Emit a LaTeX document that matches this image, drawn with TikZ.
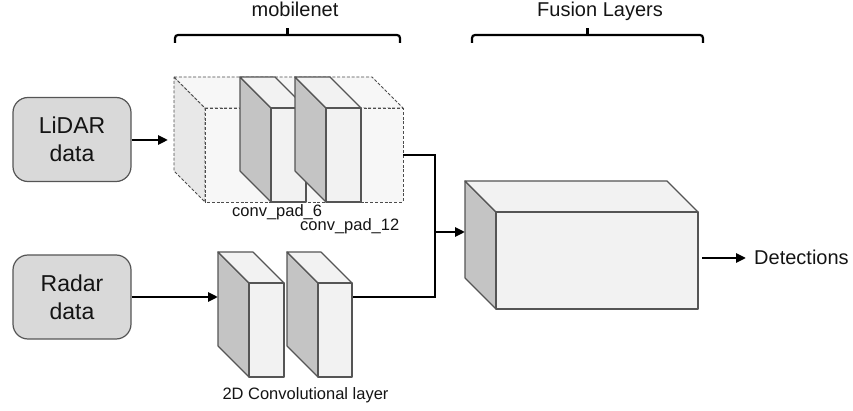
\documentclass[tikz,border=0pt]{standalone}
\usepackage{fontspec}
\setmainfont{Liberation Sans}
\usetikzlibrary{arrows.meta}

\definecolor{boxfill}{HTML}{D9D9D9}
\definecolor{edgegray}{HTML}{555555}
\definecolor{sidegray}{HTML}{C4C4C4}
\definecolor{facegray}{HTML}{F2F2F2}
\definecolor{ghostside}{HTML}{E8E8E8}
\definecolor{ghostface}{HTML}{F7F7F7}
\definecolor{ink}{HTML}{141414}

% cuboid seen from the front-left: #1 line style, #2 side fill, #3 top/front fill,
% #4,#5 top-left corner of the front face, #6 width, #7 height
\newcommand\cuboid[7]{%
  \draw[#1,fill=#2] (#4-31,#5-31) -- (#4,#5) -- (#4,#5+#7) -- (#4-31,#5+#7-31) -- cycle;
  \draw[#1,fill=#3] (#4-31,#5-31) -- (#4+#6-31,#5-31) -- (#4+#6,#5) -- (#4,#5) -- cycle;
  \draw[#1,fill=#3] (#4,#5) rectangle (#4+#6,#5+#7);
}

\tikzset{
  databox/.style={draw=edgegray, line width=1.2pt, fill=boxfill, rounded corners=15pt,
    minimum width=118pt, minimum height=84pt, align=center, text=ink,
    font=\fontsize{23}{28}\selectfont},
  caption/.style={text=ink, inner sep=0pt, font=\fontsize{16.5}{20}\selectfont},
  heading/.style={text=ink, inner sep=0pt, font=\fontsize{20}{24}\selectfont},
  wire/.style={line width=2.7pt, draw=black},
  conn/.style={wire, -{Triangle[length=10pt,width=9pt]}},
  bracket/.style={line width=2.2pt, draw=black, rounded corners=3pt},
  solidedge/.style={draw=edgegray, line width=1.2pt, line join=round},
  ghostedge/.style={draw=black!70, line width=0.9pt, dash pattern=on 3pt off 1.8pt}
}

\begin{document}
\begin{tikzpicture}[x=1pt, y=-1pt]
\useasboundingbox (0,0) rectangle (853,411);

% input boxes
\node[databox] (lidar) at (72,139.5) {LiDAR\\data};
\node[databox] (radar) at (72,297) {Radar\\data};

% mobilenet block: transparent outer volume with two padded conv slabs
\cuboid{ghostedge}{ghostside}{ghostface}{205}{108}{198}{94}
\cuboid{solidedge}{sidegray}{facegray}{271}{108}{35}{94}
\cuboid{solidedge}{sidegray}{facegray}{326}{108}{35}{94}
\node[caption, anchor=base west] (pad6) at (232,217) {conv\_pad\_6};
\node[caption, anchor=base west] (pad12) at (300,231) {conv\_pad\_12};

% radar branch: two 2D convolution slabs
\cuboid{solidedge}{sidegray}{facegray}{249}{283}{35}{94}
\cuboid{solidedge}{sidegray}{facegray}{318}{283}{34}{94}
\node[caption, anchor=base] (convlbl) at (305.5,399) {2D Convolutional layer};

% fusion block
\cuboid{solidedge}{sidegray}{facegray}{496}{212}{202}{97}

% group headings with brackets
\node[heading, anchor=base] (mobhead) at (295,17) {mobilenet};
\node[heading, anchor=base] (fushead) at (600,17) {Fusion Layers};
\draw[bracket] (175,43) |- (287.5,35) -| (400,43);
\draw[bracket] (287.5,35) -- (287.5,28.5);
\draw[bracket] (472,43) |- (587.5,35) -| (703,43);
\draw[bracket] (587.5,35) -- (587.5,28.5);

% connection points
\coordinate (mobin) at (168,140);
\coordinate (radin) at (218,297);
\coordinate (mobout) at (403,155);
\coordinate (radout) at (353,297);
\coordinate (bend) at (435,297);
\coordinate (junc) at (435,232);
\coordinate (fusin) at (465,232);
\coordinate (fusout) at (702,258);
\node[heading, anchor=base west] (det) at (754,265) {Detections};
\coordinate (detin) at (746,258);

% connectors
\draw[conn] (lidar.east |- mobin) -- (mobin);
\draw[conn] (radar.east) -- (radin);
\draw[wire, line join=miter] (mobout) -| (bend) -- (radout);
\draw[conn] (junc) -- (fusin);
\draw[conn] (fusout) -- (detin);
\end{tikzpicture}
\end{document}
